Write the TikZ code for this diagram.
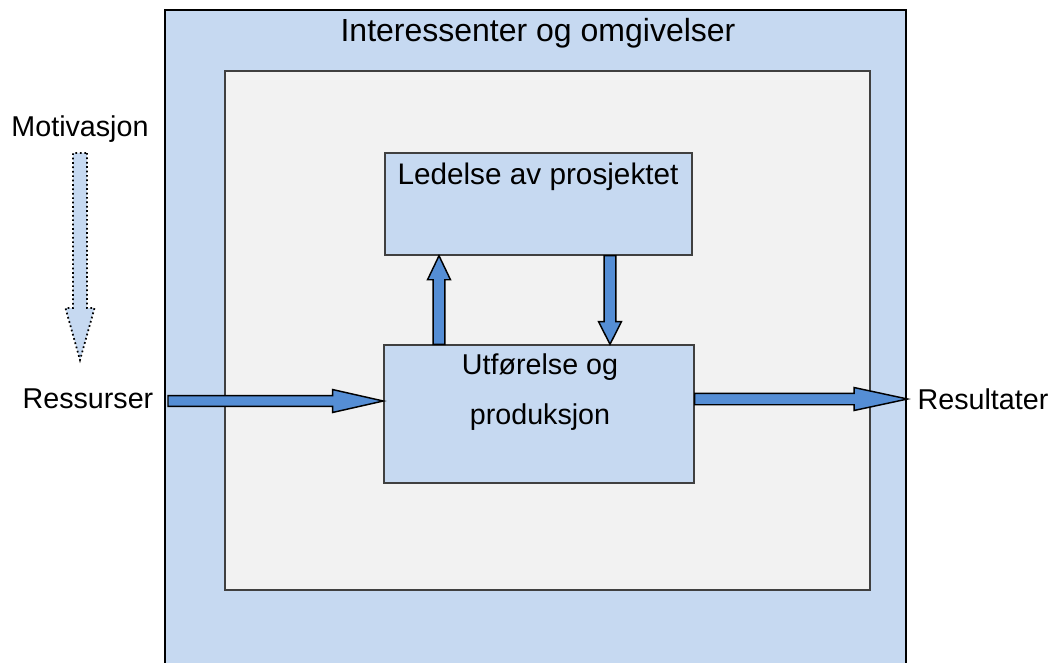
\documentclass[tikz,border=0pt]{standalone}
\usepackage{fontspec}
\setmainfont{Liberation Sans}
\usetikzlibrary{calc,fit}
\definecolor{lightblue}{HTML}{C6D9F1}
\definecolor{arrowblue}{HTML}{558ED5}
\definecolor{innergray}{HTML}{F2F2F2}
\definecolor{edgegray}{HTML}{404040}
\newcommand\blockarrow[6][]{%
  \coordinate (bh) at ($(#3)!#6!(#2)$);
  \draw[#1] ($(#2)!#4!90:(#3)$) -- ($(bh)!#4!90:(#3)$) -- ($(bh)!#5!90:(#3)$)
    -- (#3) -- ($(bh)!#5!-90:(#3)$) -- ($(bh)!#4!-90:(#3)$) -- ($(#2)!#4!-90:(#3)$) -- cycle;}
\begin{document}
\begin{tikzpicture}[x=0.75pt,y=-0.75pt,
  outerbox/.style={draw=black,line width=2.2pt,fill=lightblue,inner sep=0pt},
  innerbox/.style={draw=edgegray,line width=1.1pt,fill=innergray,inner sep=0pt},
  bluebox/.style={draw=edgegray,line width=1.1pt,fill=lightblue,inner sep=0pt},
  lbl/.style={font=\fontsize{21.5}{26}\selectfont,inner sep=0pt},
  biglbl/.style={font=\fontsize{22.3}{26}\selectfont,inner sep=0pt},
  title/.style={font=\fontsize{24}{28}\selectfont,inner sep=0pt},
  barrow/.style={draw=black,line width=1.1pt,fill=arrowblue,line join=miter},
  motarrow/.style={draw=black,line width=1.3pt,fill=lightblue,dotted}]
\useasboundingbox (0,0) rectangle (1062,662);
\node[outerbox,fit={(165,10) (906,680)}] (outer) {};
\node[innerbox,fit={(225,71) (870,590)}] (inner) {};
\node[bluebox,fit={(385,153) (692,255)}] (led) {};
\node[bluebox,fit={(384,345) (694,483)}] (utf) {};
\node[title] (ttl) at (538,33) {Interessenter og omgivelser};
\node[biglbl] (ledtxt) at (538,177) {Ledelse av prosjektet};
\node[lbl] (utftxt1) at (540,367) {Utførelse og};
\node[lbl] (utftxt2) at (540,417) {produksjon};
\node[lbl] (mot) at (80,129) {Motivasjon};
\node[lbl] (res) at (88,399) {Ressurser};
\node[lbl] (rsl) at (983,399) {Resultater};
% connector ends
\coordinate (motS) at (80,153);
\coordinate (motE) at (80,360);
\coordinate (inS) at (168,401);
\coordinate (inE) at (utf.west |- inS);
\coordinate (outS) at (utf.east |- 0,399);
\coordinate (outE) at (outer.east |- 0,399);
\coordinate (upS) at (439,0 |- utf.north);
\coordinate (upE) at (439,0 |- led.south);
\coordinate (dnS) at (610,0 |- led.south);
\coordinate (dnE) at (610,0 |- utf.north);
\blockarrow[motarrow]{motS}{motE}{5.2pt}{10.9pt}{39pt}
\blockarrow[barrow]{inS}{inE}{4.1pt}{8.6pt}{38pt}
\blockarrow[barrow]{outS}{outE}{4.3pt}{8.6pt}{40pt}
\blockarrow[barrow]{upS}{upE}{4.4pt}{8.6pt}{18pt}
\blockarrow[barrow]{dnS}{dnE}{4.4pt}{8.6pt}{17pt}
\end{tikzpicture}
\end{document}
